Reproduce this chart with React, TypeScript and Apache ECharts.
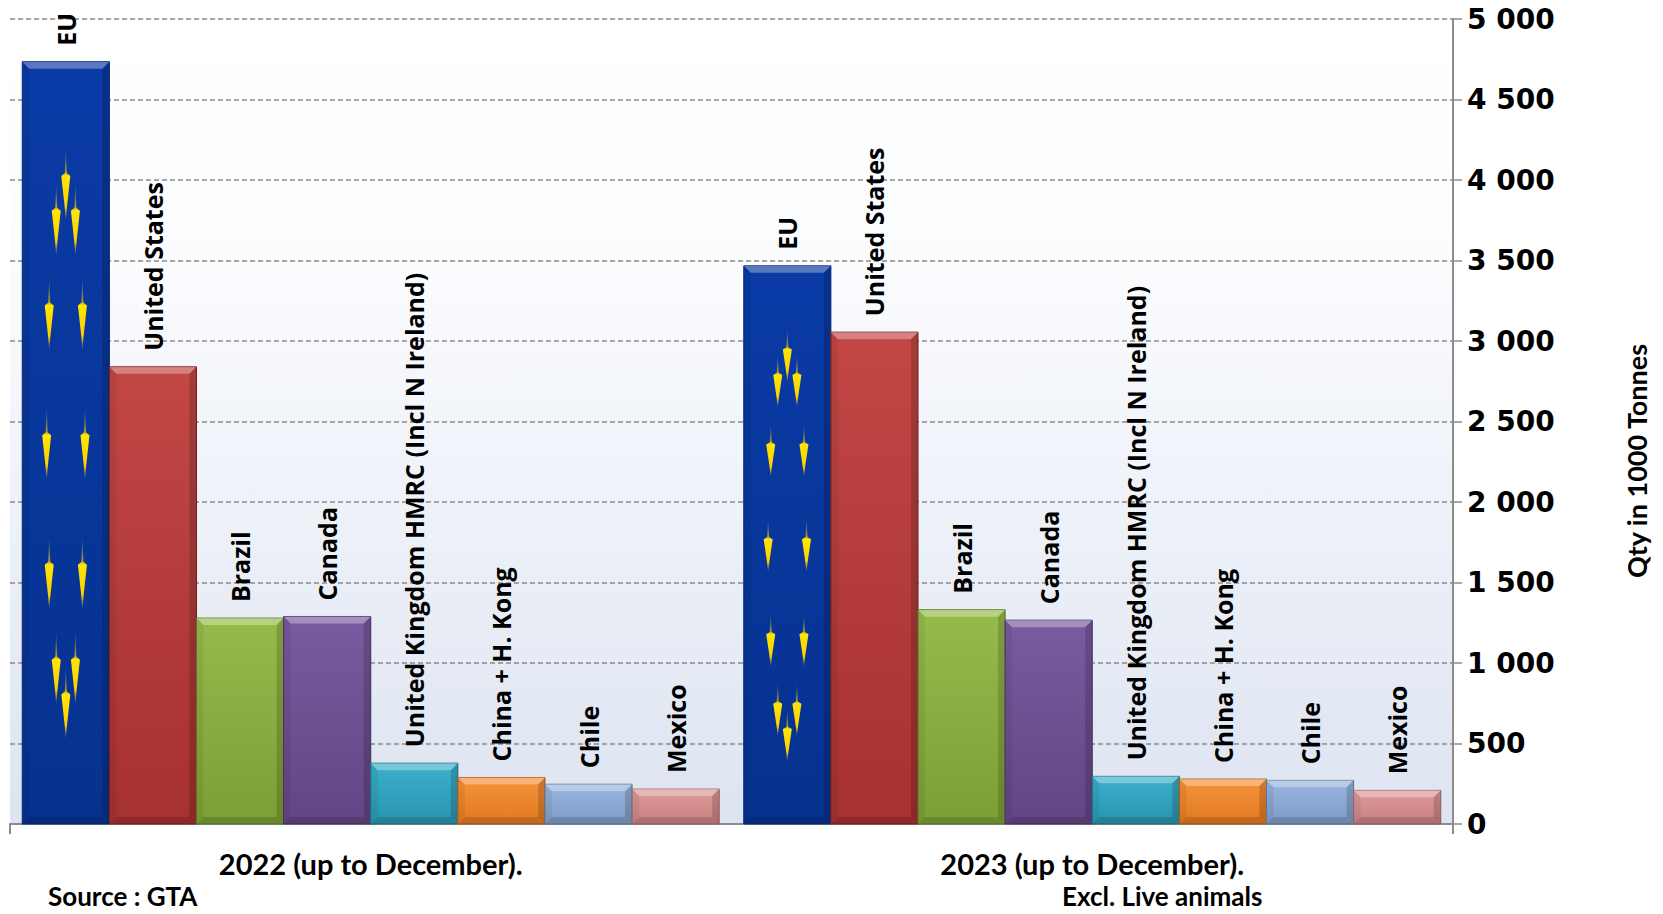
import React, { useEffect, useRef } from "react";
import * as echarts from "echarts";

const periods = ["2022 (up to December).", "2023 (up to December)."];
const countries = [
  "EU",
  "United States",
  "Brazil",
  "Canada",
  "United Kingdom HMRC (Incl N Ireland)",
  "China + H. Kong",
  "Chile",
  "Mexico",
];
const values2022 = [4735, 2840, 1279, 1289, 378, 289, 247, 217];
const values2023 = [3467, 3055, 1331, 1266, 296, 279, 271, 209];
const yTicks = { min: 0, max: 5000, interval: 500 };

const barColors = [
  ["#0a3aa6", "#06328f"],
  ["#c24745", "#a53130"],
  ["#96bb4b", "#7b9e36"],
  ["#7a5aa0", "#634585"],
  ["#3ab0cc", "#2994ae"],
  ["#f5923a", "#e07a22"],
  ["#99b6e0", "#7e9ac6"],
  ["#dc9a99", "#c98080"],
];
const strokeColors = ["#062a7a", "#7a2220", "#5c7a28", "#4a3266", "#1f7388", "#b05e14", "#5f7aa3", "#a36262"];

const BAR_FILL = 0.966;

function fmt(v: number) {
  const s = String(v);
  return s.replace(/\B(?=(\d{3})+(?!\d))/g, " ");
}

export default function App() {
  const ref = useRef<HTMLDivElement>(null);
  useEffect(() => {
    if (!ref.current) return;
    const chart = echarts.init(ref.current, undefined, { renderer: "svg" });

    const data: number[][] = [];
    [values2022, values2023].forEach((vals, p) => {
      vals.forEach((v, c) => data.push([p, v, c]));
    });

    const renderItem = (params: any, api: any) => {
      const cat = api.value(0);
      const val = api.value(1);
      const ci = api.value(2);
      const band = api.size([1, 0])[0];
      const inner = band * BAR_FILL;
      const bw = inner / countries.length;
      const base = api.coord([cat, 0]);
      const topPt = api.coord([cat, val]);
      const x = base[0] - inner / 2 + ci * bw;
      const y = topPt[1];
      const h = base[1] - topPt[1];
      const b = Math.min(7, h / 3);
      const [c1, c2] = barColors[ci];
      const children: any[] = [];
      children.push({
        type: "rect",
        shape: { x, y, width: bw, height: h },
        style: {
          fill: new echarts.graphic.LinearGradient(0, 0, 0, 1, [
            { offset: 0, color: c1 },
            { offset: 1, color: c2 },
          ]),
          stroke: strokeColors[ci],
          lineWidth: 1,
        },
      });
      children.push({
        type: "polygon",
        shape: { points: [[x, y], [x + bw, y], [x + bw - b, y + b], [x + b, y + b]] },
        style: { fill: "rgba(255,255,255,0.32)" },
      });
      children.push({
        type: "polygon",
        shape: { points: [[x, y], [x + b, y + b], [x + b, y + h - b], [x, y + h]] },
        style: { fill: "rgba(0,0,0,0.06)" },
      });
      children.push({
        type: "polygon",
        shape: { points: [[x + bw, y], [x + bw - b, y + b], [x + bw - b, y + h - b], [x + bw, y + h]] },
        style: { fill: "rgba(0,0,0,0.16)" },
      });
      children.push({
        type: "polygon",
        shape: { points: [[x, y + h], [x + b, y + h - b], [x + bw - b, y + h - b], [x + bw, y + h]] },
        style: { fill: "rgba(0,0,0,0.14)" },
      });
      if (ci === 0) {
        const cx = x + bw / 2;
        const cy = y + h / 2;
        const rx = 0.22 * bw;
        const ry = 0.34 * h;
        const sh = 0.1 * h;
        const sw = 9;
        for (let k = 0; k < 12; k++) {
          const a = (k * Math.PI) / 6;
          const sx = cx + rx * Math.sin(a);
          const sy = cy - ry * Math.cos(a);
          const t = sy - sh / 2;
          children.push({
            type: "polygon",
            shape: {
              points: [
                [sx, t],
                [sx + 1, t + 0.36 * sh],
                [sx + sw / 2, t + 0.4 * sh],
                [sx + 1.2, t + 0.8 * sh],
                [sx, t + sh],
                [sx - 1.2, t + 0.8 * sh],
                [sx - sw / 2, t + 0.4 * sh],
                [sx - 1, t + 0.36 * sh],
              ],
            },
            style: {
              fill: new echarts.graphic.LinearGradient(0, 0, 0, 1, [
                { offset: 0, color: "rgba(255,214,0,0)" },
                { offset: 0.34, color: "rgba(255,214,0,0.6)" },
                { offset: 0.4, color: "#ffe600" },
                { offset: 0.8, color: "#ffd000" },
                { offset: 1, color: "rgba(255,210,0,0)" },
              ]),
            },
          });
        }
      }
      children.push({
        type: "text",
        x: x + bw / 2,
        y: y - 16,
        rotation: Math.PI / 2,
        style: {
          text: countries[ci],
          fill: "#000",
          font: 'bold 25px "Open Sans"',
          align: "left",
          verticalAlign: "middle",
        },
      });
      return { type: "group", children };
    };

    chart.setOption({
      animation: false,
      backgroundColor: "#ffffff",
      grid: {
        left: 10,
        right: 210,
        top: 19,
        bottom: 90,
        show: true,
        borderWidth: 0,
        backgroundColor: new echarts.graphic.LinearGradient(0, 0, 0, 1, [
          { offset: 0, color: "#ffffff" },
          { offset: 0.3, color: "#fbfcfe" },
          { offset: 1, color: "#dde4f1" },
        ]),
      },
      xAxis: {
        type: "category",
        data: periods,
        axisLine: { show: true, lineStyle: { color: "#8c8c8c", width: 2 } },
        axisTick: { show: true, length: 10, interval: (i: number) => i === 0, lineStyle: { color: "#8c8c8c", width: 2 } },
        axisLabel: {
          margin: 25,
          color: "#000",
          fontFamily: "Lato",
          fontWeight: "bold",
          fontSize: 29,
        },
      },
      yAxis: {
        type: "value",
        position: "right",
        min: yTicks.min,
        max: yTicks.max,
        interval: yTicks.interval,
        axisLine: { show: true, lineStyle: { color: "#8c8c8c", width: 2 } },
        axisTick: { show: true, length: 9, lineStyle: { color: "#8c8c8c", width: 1.5 } },
        splitLine: { show: true, lineStyle: { color: "#8a8a8a", width: 1.5, type: [5, 3] } },
        axisLabel: {
          margin: 14,
          color: "#000",
          fontFamily: "DejaVu Sans",
          fontWeight: "bold",
          fontSize: 28,
          formatter: (v: number) => fmt(v),
        },
      },
      graphic: [
        {
          type: "text",
          x: 1636,
          y: 461,
          rotation: Math.PI / 2,
          style: {
            text: "Qty in 1000 Tonnes",
            fill: "#000",
            font: 'bold 27px "Lato"',
            align: "center",
            verticalAlign: "middle",
          },
        },
        {
          type: "text",
          x: 48,
          y: 896,
          style: { text: "Source : GTA", fill: "#000", font: 'bold 26px "Lato"', align: "left", verticalAlign: "middle" },
        },
        {
          type: "text",
          x: 1062,
          y: 896,
          style: { text: "Excl. Live animals", fill: "#000", font: 'bold 26px "Lato"', align: "left", verticalAlign: "middle" },
        },
      ],
      series: [
        {
          type: "custom",
          renderItem,
          encode: { x: 0, y: 1 },
          data,
          clip: false,
          z: 3,
        },
      ],
    });
    return () => chart.dispose();
  }, []);
  return (
    <div
      ref={ref}
      style={{ position: "fixed", left: 0, top: 0, width: 1663, height: 914 }}
    />
  );
}
